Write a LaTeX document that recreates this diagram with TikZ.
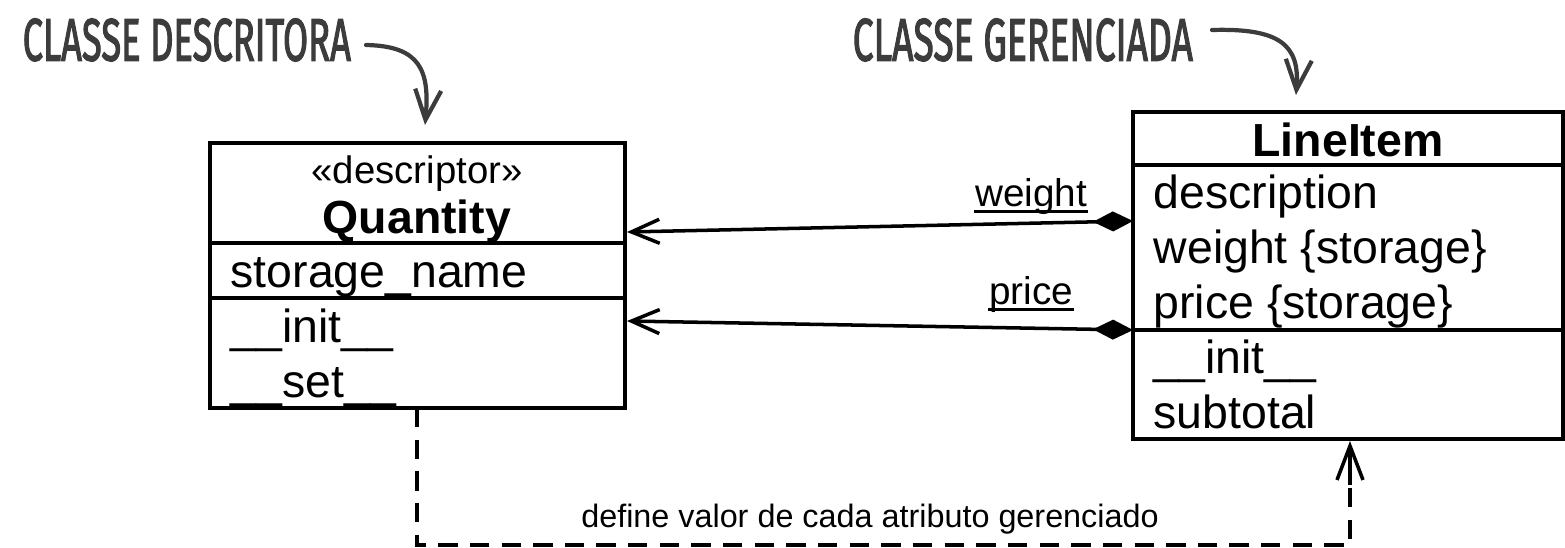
\documentclass[tikz,border=0pt]{standalone}
\usepackage{fontspec}
\setmainfont{Liberation Sans}
\newfontfamily\handfont[FakeBold=2.5]{Fira Sans}
\usetikzlibrary{arrows.meta}
\definecolor{hand}{HTML}{3C3C3C}
\tikzset{
  umlbox/.style={draw, line width=1pt, inner sep=0pt},
  member/.style={anchor=base west, inner sep=0pt, font=\fontsize{13.2}{15}\selectfont},
  title/.style={anchor=base, inner sep=0pt, font=\fontsize{13.2}{15}\selectfont\bfseries},
  stereo/.style={anchor=base, inner sep=0pt, font=\fontsize{10.9}{13}\selectfont},
  rolelabel/.style={anchor=base, inner sep=0pt, font=\fontsize{11}{13}\selectfont},
  note/.style={anchor=base, inner sep=0pt, font=\fontsize{9.2}{11}\selectfont},
  assoc/.style={line width=1pt, {Straight Barb[length=0.28cm,width=0.24cm,line width=1pt]}-{Diamond[length=0.4cm,width=0.2cm]}},
  depend/.style={line width=1pt, dash pattern=on 5.5pt off 3.5pt},
  dependtip/.style={line width=1pt, solid, -{Straight Barb[length=0.34cm,width=0.26cm,line width=1pt]}},
  handarrow/.style={hand, line width=1.2pt, line cap=round, -{Straight Barb[length=0.3cm,width=0.26cm,line width=1.2pt]}},
  handlabel/.style={anchor=south west, inner sep=0pt, text=hand}
}
\begin{document}
\begin{tikzpicture}[x=0.01cm,y=-0.01cm]
\useasboundingbox (0,0) rectangle (1565,548);
% left class
\node[umlbox, minimum width=4.15cm, minimum height=2.65cm] (quant) at (417.5,275.5) {};
\draw[line width=1pt] (210,243) -- (625,243);
\draw[line width=1pt] (210,298) -- (625,298);
\node[stereo] (qst) at (417,183) {«descriptor»};
\node[title] (qtitle) at (417,233) {Quantity};
\node[member] (qa1) at (230,287) {storage\_name};
\node[member] (qm1) at (230,342) {\_\_init\_\_};
\node[member] (qm2) at (230,397) {\_\_set\_\_};
% right class
\node[umlbox, minimum width=4.30cm, minimum height=3.27cm] (item) at (1348,275.5) {};
\draw[line width=1pt] (1133,165) -- (1563,165);
\draw[line width=1pt] (1133,330) -- (1563,330);
\node[title] (ititle) at (1348,156) {LineItem};
\node[member] (ia1) at (1153,208) {description};
\node[member] (ia2) at (1153,263) {weight \{storage\}};
\node[member] (ia3) at (1153,318) {price \{storage\}};
\node[member] (im1) at (1153,373) {\_\_init\_\_};
\node[member] (im2) at (1153,428) {subtotal};
% association ends
\coordinate (qw) at (627,232);
\coordinate (qp) at (627,321);
\coordinate (iw) at (1133,221);
\coordinate (ip) at (1133,330);
\draw[assoc] (qw) -- (iw);
\draw[assoc] (qp) -- (ip);
\node[rolelabel] (lw) at (1031,206) {weight};
\node[rolelabel] (lp) at (1031,304) {price};
\draw[line width=0.7pt] ([yshift=-1.6pt]lw.base west) -- ([yshift=-1.6pt]lw.base east);
\draw[line width=0.7pt] ([yshift=-1.6pt]lp.base west) -- ([yshift=-1.6pt]lp.base east);
% dependency
\coordinate (ds) at (417,408);
\coordinate (dm) at (1350,485);
\coordinate (de) at (1350,441);
\draw[depend] (ds) -- (417,545) -- (1350,545) -- (dm);
\draw[dependtip] (dm) -- (de);
\node[note] (dlabel) at (870,527) {define valor de cada atributo gerenciado};
% handwritten labels
\node[handlabel] (h1) at (22,62) {\resizebox{3.28cm}{0.42cm}{\handfont CLASSE DESCRITORA}};
\node[handlabel] (h2) at (852,62) {\resizebox{3.40cm}{0.42cm}{\handfont CLASSE GERENCIADA}};
\coordinate (h1s) at (366,45);
\coordinate (h1e) at (425,125);
\coordinate (h2s) at (1212,30);
\coordinate (h2e) at (1296,95);
\draw[handarrow] (h1s) .. controls (420,46) and (430,70) .. (h1e);
\draw[handarrow] (h2s) .. controls (1280,28) and (1300,45) .. (h2e);
\end{tikzpicture}
\end{document}
